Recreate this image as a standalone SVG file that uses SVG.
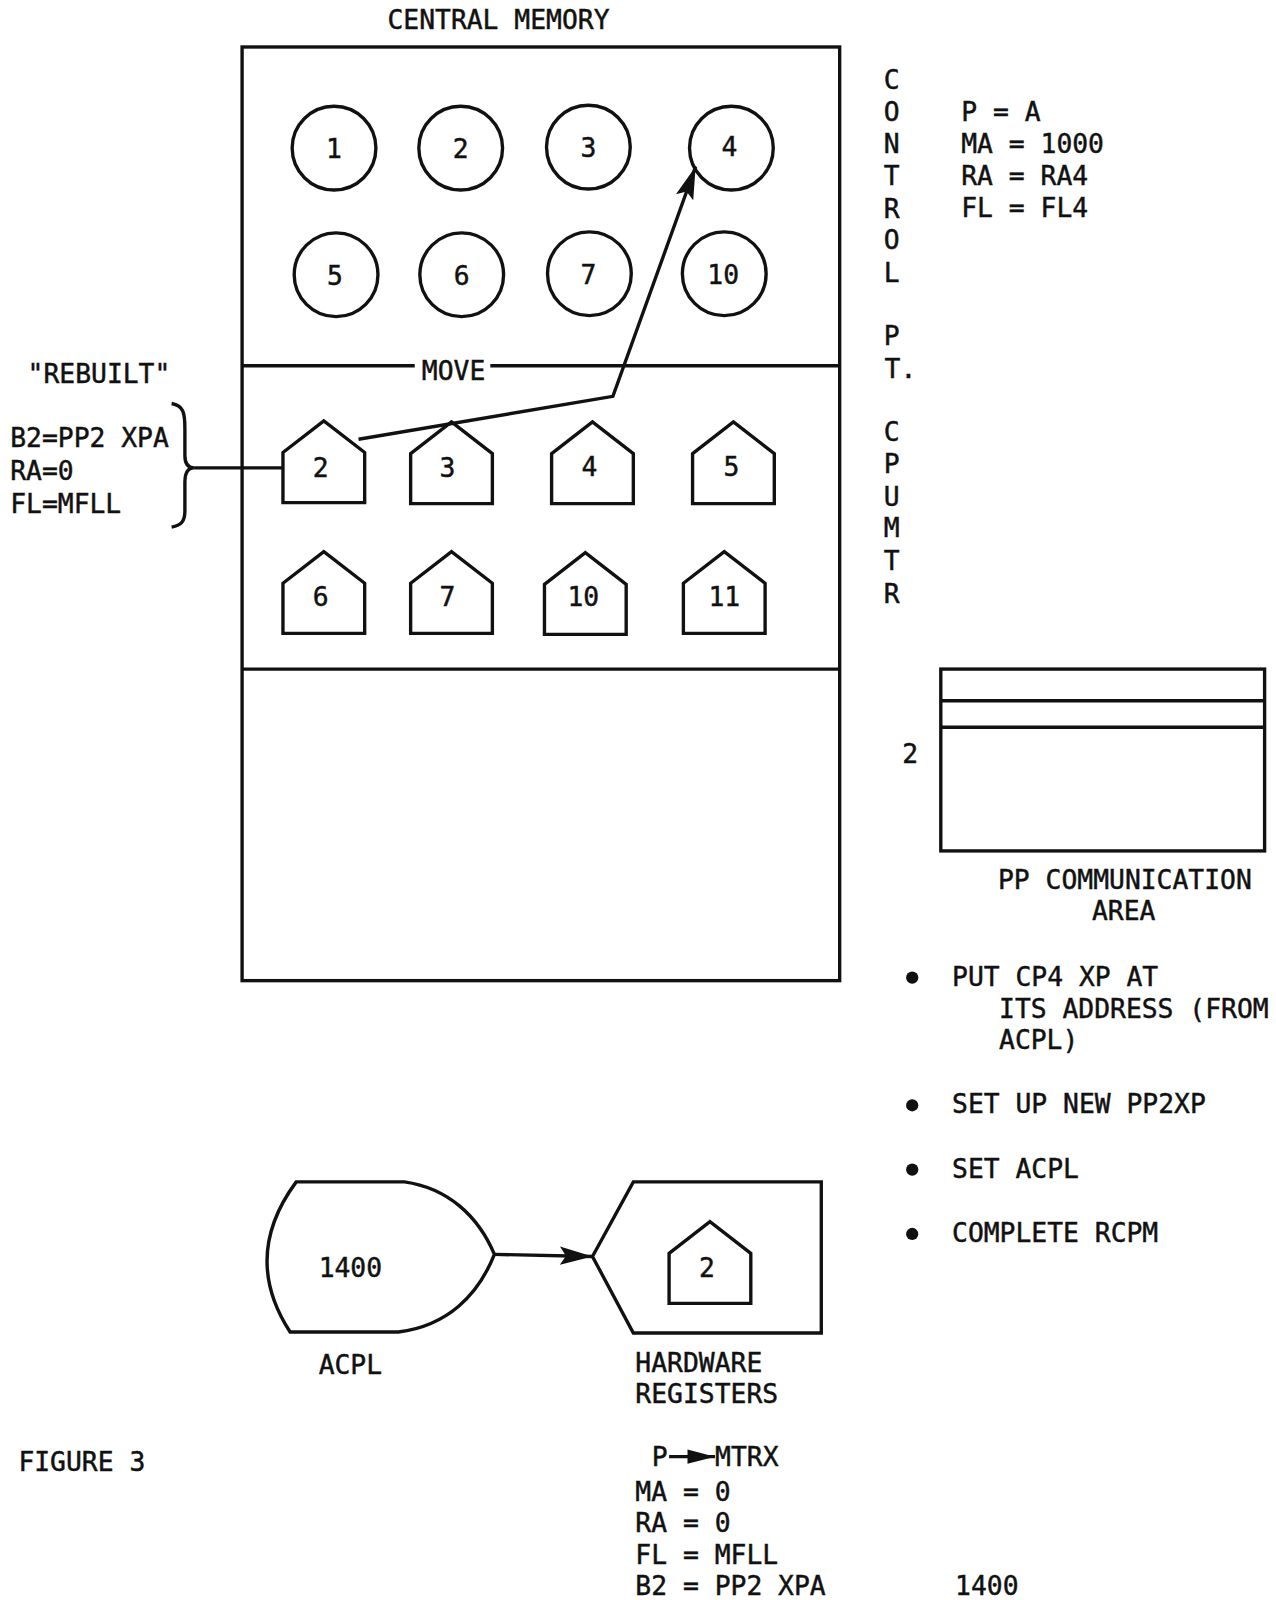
<svg xmlns="http://www.w3.org/2000/svg" width="1276" height="1600" viewBox="0 0 1276 1600">
<style>
text{font-family:"DejaVu Sans Mono","Liberation Mono",monospace;font-size:25.8px;fill:#111;stroke:#111;stroke-width:0.45}
.m{text-anchor:middle}
.s{fill:none;stroke:#111;stroke-width:3.3;stroke-linejoin:miter}
</style>
<defs>
<marker id="ah" markerUnits="userSpaceOnUse" markerWidth="34" markerHeight="20" refX="32" refY="10" orient="auto"><path d="M0,1 L32,10 L0,19 L6,10 Z" fill="#111"/></marker>
<marker id="ah2" markerUnits="userSpaceOnUse" markerWidth="28" markerHeight="16" refX="27" refY="8" orient="auto"><path d="M0,1 L27,8 L0,15 Z" fill="#111"/></marker>
<path id="house" d="M0,80 L0,31 L40,0 L80,31 L80,80 Z"/>
</defs>
<rect width="1276" height="1600" fill="#fff"/>
<g transform="scale(1.0215)">

<g id="central-memory">
<text class="m" x="488" y="28">CENTRAL MEMORY</text>
<rect class="s" x="237" y="46" width="585" height="914"/>
<line class="s" x1="237" y1="358" x2="406" y2="358"/>
<line class="s" x1="480" y1="358" x2="822" y2="358"/>
<line class="s" x1="237" y1="655" x2="822" y2="655"/>
<text class="m" x="444" y="372">MOVE</text>
</g>

<g id="circles">
<g id="c1"><circle class="s" cx="327" cy="145" r="41"/><text class="m" x="327" y="155">1</text></g>
<g id="c2"><circle class="s" cx="451" cy="145" r="41"/><text class="m" x="451" y="155">2</text></g>
<g id="c3"><circle class="s" cx="576" cy="144" r="41"/><text class="m" x="576" y="154">3</text></g>
<g id="c4"><circle class="s" cx="716" cy="145" r="41"/><text class="m" x="714" y="153">4</text></g>
<g id="c5"><circle class="s" cx="329" cy="269" r="41"/><text class="m" x="328" y="279">5</text></g>
<g id="c6"><circle class="s" cx="452" cy="269" r="41"/><text class="m" x="452" y="279">6</text></g>
<g id="c7"><circle class="s" cx="577" cy="268" r="41"/><text class="m" x="576" y="278">7</text></g>
<g id="c10"><circle class="s" cx="709" cy="268" r="41"/><text class="m" x="708" y="278">10</text></g>
</g>

<g id="houses">
<g id="h2"><use href="#house" class="s" x="277" y="412"/><text class="m" x="314" y="467">2</text></g>
<g id="h3"><use href="#house" class="s" x="402" y="413"/><text class="m" x="438" y="467">3</text></g>
<g id="h4"><use href="#house" class="s" x="540" y="413"/><text class="m" x="577" y="466">4</text></g>
<g id="h5"><use href="#house" class="s" x="678" y="413"/><text class="m" x="716" y="466">5</text></g>
<g id="h6"><use href="#house" class="s" x="277" y="540"/><text class="m" x="314" y="593">6</text></g>
<g id="h7"><use href="#house" class="s" x="402" y="540"/><text class="m" x="438" y="593">7</text></g>
<g id="h10"><use href="#house" class="s" x="533" y="541"/><text class="m" x="571" y="593">10</text></g>
<g id="h11"><use href="#house" class="s" x="669" y="540"/><text class="m" x="709" y="593">11</text></g>
</g>

<g id="rebuilt">
<text x="27" y="375">"REBUILT"</text>
<text x="10" y="438">B2=PP2 XPA</text>
<text x="10" y="470">RA=0</text>
<text x="10" y="502">FL=MFLL</text>
<path class="s" d="M168,395 C180,397 181,405 181,420 L181,446 C181,454 184,458 190,458 C184,458 181,462 181,472 L181,500 C181,510 178,514 168,516"/>
</g>

<g id="control">
<text class="m" x="873" y="87">C</text>
<text class="m" x="873" y="118">O</text>
<text class="m" x="873" y="150">N</text>
<text class="m" x="873" y="181">T</text>
<text class="m" x="873" y="213">R</text>
<text class="m" x="873" y="244">O</text>
<text class="m" x="873" y="276">L</text>
<text class="m" x="873" y="338">P</text>
<text x="866" y="370">T.</text>
<text class="m" x="873" y="432">C</text>
<text class="m" x="873" y="463">P</text>
<text class="m" x="873" y="495">U</text>
<text class="m" x="873" y="526">M</text>
<text class="m" x="873" y="558">T</text>
<text class="m" x="873" y="590">R</text>
<text x="941" y="118"> P = A</text>
<text x="941" y="150">MA = 1000</text>
<text x="941" y="181">RA = RA4</text>
<text x="941" y="212">FL = FL4</text>
</g>

<g id="pp-comm">
<rect class="s" x="921" y="655" width="317" height="178"/>
<line class="s" x1="921" y1="686" x2="1238" y2="686"/>
<line class="s" x1="921" y1="712" x2="1238" y2="712"/>
<text class="m" x="891" y="747">2</text>
<text x="977" y="870">PP COMMUNICATION</text>
<text class="m" x="1100" y="901">AREA</text>
</g>

<g id="steps">
<circle cx="893" cy="957" r="6" fill="#111"/>
<text x="932" y="965">PUT CP4 XP AT</text>
<text x="978" y="997">ITS ADDRESS (FROM</text>
<text x="978" y="1027">ACPL)</text>
<circle cx="893" cy="1082" r="6" fill="#111"/>
<text x="932" y="1090">SET UP NEW PP2XP</text>
<circle cx="893" cy="1145" r="6" fill="#111"/>
<text x="932" y="1153">SET ACPL</text>
<circle cx="893" cy="1208" r="6" fill="#111"/>
<text x="932" y="1216">COMPLETE RCPM</text>
</g>

<g id="acpl">
<path class="s" d="M290,1157 L396,1157 C438,1163 468,1190 484,1228 C468,1268 438,1298 390,1304 L284,1304 Q236,1230 290,1157 Z"/>
<text class="m" x="343" y="1250">1400</text>
<text class="m" x="343" y="1345">ACPL</text>
</g>

<g id="hardware">
<path class="s" d="M580,1230 L620,1157 L804,1157 L804,1305 L620,1305 Z"/>
<use href="#house" class="s" x="655" y="1196"/>
<text class="m" x="692" y="1250">2</text>
<text x="622" y="1343">HARDWARE</text>
<text x="622" y="1373">REGISTERS</text>
</g>

<g id="connectors">
<polyline class="s" points="351,430 600,388 681,163" marker-end="url(#ah)"/>
<line class="s" x1="190" y1="458" x2="277" y2="458"/>
<line class="s" x1="484" y1="1228" x2="580" y2="1230" marker-end="url(#ah)"/>
</g>

<g id="figure-label">
<text x="18" y="1440">FIGURE 3</text>
</g>

<g id="registers-values">
<text x="638" y="1435">P</text>
<line class="s" x1="655" y1="1426" x2="700" y2="1426" marker-end="url(#ah2)"/>
<text x="700" y="1435">MTRX</text>
<text x="622" y="1469">MA = 0</text>
<text x="622" y="1500">RA = 0</text>
<text x="622" y="1531">FL = MFLL</text>
<text x="622" y="1561">B2 = PP2 XPA</text>
<text x="935" y="1561">1400</text>
</g>
</g>
</svg>
